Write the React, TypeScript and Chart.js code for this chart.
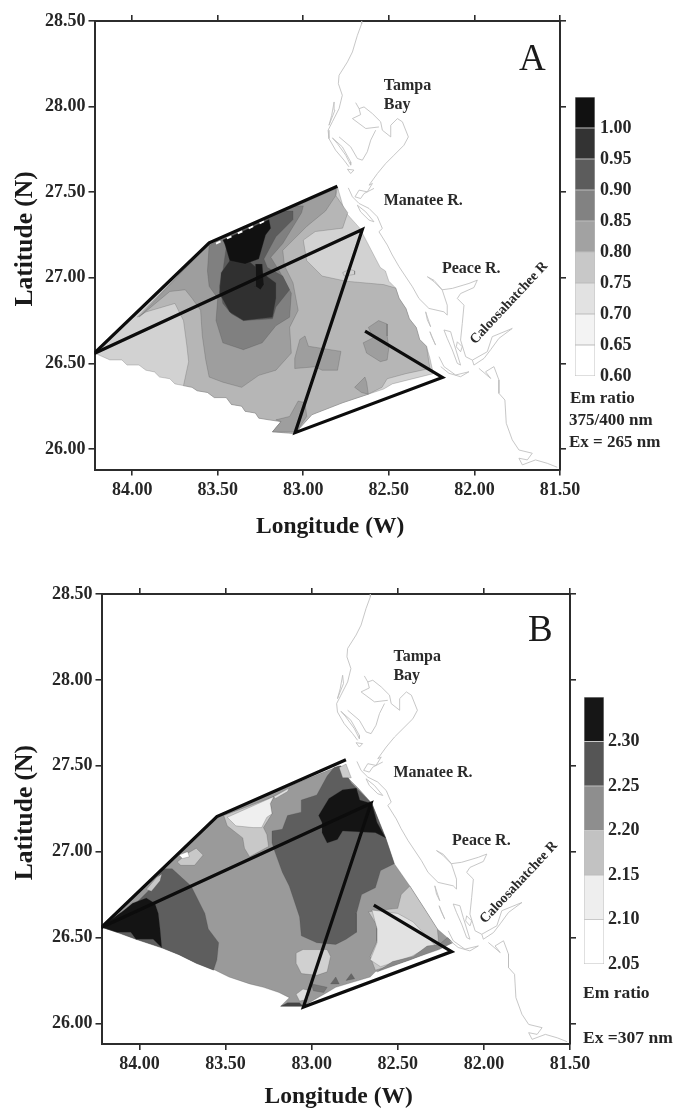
import React, { useEffect, useRef } from "react";
import { Chart, registerables } from "chart.js";

Chart.register(...registerables);

type P = number[];
const SERIF = "'Liberation Serif', serif";

const lonTicks = [84, 83.5, 83, 82.5, 82, 81.5];
const latTicks = [28.5, 28, 27.5, 27, 26.5, 26];
const ticksA = [0.6, 0.65, 0.7, 0.75, 0.8, 0.85, 0.9, 0.95, 1.0];
const ticksB = [2.05, 2.1, 2.15, 2.2, 2.25, 2.3];
const bandsA = [0.6, 0.65, 0.7, 0.75, 0.8, 0.85, 0.9, 0.95, 1.0, 1.05];
const bandsB = [2.05, 2.1, 2.15, 2.2, 2.25, 2.3, 2.35];
const shadesA = ["#ffffff", "#f3f3f3", "#e2e2e2", "#c8c8c8", "#a2a2a2", "#828282", "#5c5c5c", "#333333", "#111111"];
const shadesB = ["#ffffff", "#eeeeee", "#c2c2c2", "#8e8e8e", "#555555", "#161616"];

// cruise track
const trackNorth: P[] = [[84.222, 26.558], [83.55, 27.204], [82.801, 27.535]];
const trackSouth: P[] = [[84.222, 26.558], [82.655, 27.282], [83.048, 26.095], [82.187, 26.418], [82.639, 26.689]];
const dashesA: P[] = [[83.51, 27.2], [83.21, 27.34]];

// coastline (same in both panels)
const coastPinellas: P[] = [[82.659, 28.5], [82.659, 28.484], [82.684, 28.416], [82.713, 28.319], [82.742, 28.261], [82.791, 28.183], [82.795, 28.134], [82.772, 28.066], [82.791, 27.988], [82.83, 27.911], [82.855, 27.862], [82.85, 27.813], [82.811, 27.745], [82.762, 27.687], [82.733, 27.648]];
const coastSliver: P[] = [[82.82, 28.027], [82.834, 27.949], [82.85, 27.891], [82.815, 27.979], [82.82, 28.027]];
const coastBarrier: P[] = [[82.83, 27.817], [82.772, 27.765], [82.723, 27.677], [82.723, 27.658], [82.752, 27.716], [82.801, 27.784], [82.83, 27.817]];
const coastBlob: P[] = [[82.742, 27.634], [82.704, 27.629], [82.723, 27.609], [82.742, 27.634]];
const coastTampa: P[] = [[82.694, 28.023], [82.674, 27.988], [82.645, 27.998], [82.596, 27.959], [82.548, 27.911], [82.538, 27.862], [82.489, 27.823], [82.489, 27.891], [82.45, 27.93], [82.421, 27.911], [82.386, 27.823], [82.412, 27.774], [82.47, 27.716], [82.519, 27.667], [82.567, 27.609], [82.616, 27.541], [82.596, 27.551], [82.626, 27.502], [82.674, 27.512], [82.698, 27.473], [82.665, 27.463], [82.645, 27.492], [82.587, 27.522]];
const coastOldTampa: P[] = [[82.558, 27.881], [82.635, 27.872], [82.713, 27.93], [82.665, 27.953], [82.674, 27.988]];
const coastHills: P[] = [[82.577, 27.862], [82.606, 27.804], [82.626, 27.736], [82.655, 27.687], [82.684, 27.697], [82.723, 27.765], [82.791, 27.823]];
const coastManatee: P[] = [[82.737, 27.525], [82.713, 27.473], [82.674, 27.434], [82.616, 27.405], [82.567, 27.356], [82.538, 27.288], [82.558, 27.269], [82.509, 27.191], [82.48, 27.133], [82.44, 27.064], [82.362, 26.947], [82.324, 26.879], [82.266, 26.821], [82.178, 26.801], [82.159, 26.782], [82.159, 26.84], [82.188, 26.928], [82.236, 26.977], [82.275, 27.006], [82.236, 26.985], [82.188, 26.93], [82.129, 26.938], [82.032, 26.967], [81.983, 26.986], [82.003, 26.943], [82.081, 26.908], [82.1, 26.879], [82.061, 26.84], [82.071, 26.733], [82.081, 26.636], [82.051, 26.539], [82.012, 26.519], [81.925, 26.568], [81.896, 26.656], [81.779, 26.704], [81.857, 26.646], [81.905, 26.58], [81.944, 26.529], [82.003, 26.49], [82.012, 26.519]];
const coastIsland: P[] = [[82.684, 27.424], [82.635, 27.385], [82.587, 27.327], [82.616, 27.337], [82.665, 27.385], [82.684, 27.424]];
const coastSouth: P[] = [[81.974, 26.471], [81.905, 26.412], [81.935, 26.451], [81.886, 26.481], [81.857, 26.403], [81.857, 26.325], [81.822, 26.286], [81.814, 26.15], [81.779, 26.053], [81.74, 25.994], [81.662, 25.975], [81.691, 25.936], [81.74, 25.946], [81.72, 25.907], [81.643, 25.936], [81.574, 25.916], [81.516, 25.893]];
const coastPine: P[] = [[82.178, 26.695], [82.139, 26.685], [82.12, 26.617], [82.081, 26.49], [82.1, 26.5], [82.129, 26.578], [82.159, 26.646], [82.178, 26.695]];
const coastPineLoop: P[] = [[82.1, 26.626], [82.071, 26.597], [82.081, 26.568], [82.106, 26.597], [82.1, 26.626]];
const coastSanibel: P[] = [[82.207, 26.539], [82.178, 26.481], [82.11, 26.432], [82.032, 26.451], [82.081, 26.422], [82.149, 26.442], [82.197, 26.481]];
const coastKey1: P[] = [[82.285, 26.801], [82.256, 26.714], [82.275, 26.753], [82.285, 26.801]];
const coastKey2: P[] = [[82.26, 26.685], [82.227, 26.607], [82.25, 26.656], [82.26, 26.685]];
const coastLines = [coastPinellas, coastSliver, coastBarrier, coastBlob, coastTampa, coastOldTampa, coastHills, coastManatee, coastIsland, coastSouth, coastPine, coastPineLoop, coastSanibel, coastKey1, coastKey2];

// Panel A contours
const aDomain: P[] = [[84.22, 26.56], [83.55, 27.2], [82.8, 27.53], [82.76, 27.39], [82.67, 27.29], [82.55, 27.06], [82.52, 27.04], [82.5, 26.98], [82.46, 26.94], [82.44, 26.88], [82.4, 26.82], [82.38, 26.76], [82.34, 26.71], [82.32, 26.64], [82.28, 26.6], [82.26, 26.53], [82.24, 26.44], [82.48, 26.38], [82.53, 26.35], [82.62, 26.32], [82.77, 26.27], [82.95, 26.2], [83.05, 26.09], [83.18, 26.1], [83.13, 26.16], [83.2, 26.17], [83.26, 26.18], [83.28, 26.21], [83.34, 26.22], [83.36, 26.25], [83.42, 26.26], [83.45, 26.3], [83.52, 26.3], [83.56, 26.33], [83.62, 26.34], [83.65, 26.36], [83.7, 26.37], [83.75, 26.38], [83.78, 26.41], [83.84, 26.42], [83.87, 26.45], [83.92, 26.46], [83.96, 26.49], [84.03, 26.49], [84.06, 26.52], [84.13, 26.52]];
const aMid: P[] = [[83.97, 26.77], [83.92, 26.8], [83.75, 26.85], [83.7, 26.75], [83.68, 26.6], [83.67, 26.51], [83.7, 26.37], [83.65, 26.36], [83.62, 26.34], [83.56, 26.33], [83.52, 26.3], [83.45, 26.3], [83.42, 26.26], [83.36, 26.25], [83.34, 26.22], [83.28, 26.21], [83.26, 26.18], [83.2, 26.17], [83.13, 26.16], [83.18, 26.1], [83.05, 26.09], [82.95, 26.2], [82.77, 26.27], [82.62, 26.32], [82.54, 26.36], [82.51, 26.41], [82.4, 26.44], [82.26, 26.47], [82.28, 26.6], [82.32, 26.64], [82.34, 26.71], [82.38, 26.76], [82.4, 26.82], [82.44, 26.88], [82.46, 26.94], [82.53, 26.96], [82.75, 26.98], [82.89, 27.01], [82.98, 27.1], [83.0, 27.22], [82.93, 27.27], [82.77, 27.29], [82.74, 27.38], [82.81, 27.48], [82.8, 27.53], [83.55, 27.2]];
const aPale: P[] = [[82.77, 27.03], [82.73, 27.05], [82.7, 27.04], [82.7, 27.02], [82.76, 27.01]];
const aBand: P[] = [[83.96, 26.77], [83.78, 26.92], [83.69, 26.93], [83.65, 26.88], [83.6, 26.81], [83.59, 26.66], [83.57, 26.52], [83.55, 26.42], [83.47, 26.39], [83.36, 26.36], [83.26, 26.43], [83.16, 26.46], [83.07, 26.56], [83.08, 26.71], [83.03, 26.81], [83.06, 26.97], [83.11, 27.07], [83.12, 27.16], [83.06, 27.22], [82.98, 27.3], [82.87, 27.39], [82.81, 27.48], [82.81, 27.52], [83.55, 27.2]];
const aPatch1: P[] = [[82.99, 26.66], [82.97, 26.6], [82.78, 26.57], [82.8, 26.46], [82.89, 26.46], [82.93, 26.48], [83.05, 26.47], [83.05, 26.53], [83.02, 26.64]];
const aPatch2: P[] = [[82.62, 26.71], [82.56, 26.75], [82.51, 26.73], [82.51, 26.66], [82.5, 26.59], [82.51, 26.52], [82.55, 26.51], [82.63, 26.56], [82.65, 26.62], [82.59, 26.65]];
const aPatch3: P[] = [[82.7, 26.36], [82.64, 26.42], [82.63, 26.39], [82.62, 26.32], [82.66, 26.33]];
const aPatch4: P[] = [[83.16, 26.17], [83.08, 26.19], [83.03, 26.28], [82.99, 26.27], [82.98, 26.19], [83.02, 26.13], [83.04, 26.1], [83.18, 26.1], [83.13, 26.16]];
const aOuter: P[] = [[83.55, 27.19], [83.56, 27.04], [83.55, 26.95], [83.5, 26.88], [83.51, 26.75], [83.47, 26.62], [83.35, 26.58], [83.24, 26.62], [83.16, 26.72], [83.08, 26.77], [83.07, 26.91], [83.14, 27.04], [83.19, 27.12], [83.12, 27.2], [83.01, 27.38], [83.0, 27.42], [83.06, 27.42], [83.49, 27.22]];
const aInner: P[] = [[83.45, 27.18], [83.47, 27.04], [83.49, 26.95], [83.47, 26.85], [83.42, 26.79], [83.35, 26.75], [83.18, 26.76], [83.16, 26.83], [83.08, 26.93], [83.12, 27.01], [83.21, 27.06], [83.23, 27.11], [83.16, 27.24], [83.06, 27.34], [83.06, 27.39], [83.14, 27.39], [83.47, 27.22]];
const aLower: P[] = [[83.48, 27.03], [83.49, 26.91], [83.43, 26.8], [83.35, 26.75], [83.18, 26.77], [83.16, 26.88], [83.16, 26.97], [83.24, 27.03], [83.31, 27.09], [83.43, 27.1]];
const aCore: P[] = [[83.46, 27.2], [83.43, 27.1], [83.34, 27.08], [83.26, 27.11], [83.22, 27.25], [83.19, 27.29], [83.2, 27.34], [83.47, 27.22]];
const aSpot: P[] = [[83.28, 27.08], [83.28, 26.95], [83.25, 26.93], [83.23, 26.96], [83.24, 27.08]];

// Panel B contours
const bDomain: P[] = [[84.22, 26.56], [83.55, 27.21], [82.84, 27.5], [82.78, 27.42], [82.73, 27.37], [82.65, 27.28], [82.57, 27.08], [82.52, 26.93], [82.43, 26.8], [82.34, 26.66], [82.27, 26.55], [82.19, 26.48], [82.26, 26.44], [82.43, 26.37], [82.63, 26.3], [82.66, 26.27], [82.86, 26.21], [82.91, 26.18], [83.05, 26.1], [83.18, 26.1], [83.13, 26.15], [83.19, 26.18], [83.28, 26.21], [83.36, 26.23], [83.48, 26.27], [83.56, 26.31], [83.67, 26.35], [83.77, 26.4], [83.87, 26.44], [84.02, 26.49], [84.13, 26.53]];
const bPaleNW: P[] = [[83.51, 27.21], [83.49, 27.15], [83.4, 27.08], [83.39, 27.02], [83.36, 26.97], [83.25, 27.03], [83.26, 27.1], [83.28, 27.14], [83.23, 27.22], [83.24, 27.28], [83.22, 27.32]];
const bWhiteNW: P[] = [[83.49, 27.2], [83.44, 27.15], [83.34, 27.14], [83.29, 27.14], [83.26, 27.2], [83.23, 27.22], [83.24, 27.28], [83.22, 27.32]];
const bSliver: P[] = [[83.22, 27.32], [83.13, 27.37], [83.14, 27.35], [83.21, 27.31]];
const bDarkN: P[] = [[82.91, 27.44], [82.87, 27.49], [82.83, 27.5], [82.77, 27.4], [82.65, 27.28], [82.57, 27.08], [82.52, 26.93], [82.6, 26.89], [82.63, 26.79], [82.71, 26.75], [82.74, 26.64], [82.74, 26.53], [82.8, 26.49], [82.86, 26.46], [82.97, 26.47], [83.06, 26.51], [83.07, 26.62], [83.13, 26.8], [83.17, 26.88], [83.21, 26.99], [83.23, 27.05], [83.23, 27.12], [83.17, 27.13], [83.14, 27.21], [83.06, 27.23], [83.06, 27.3], [82.97, 27.33]];
const bBlackN: P[] = [[82.96, 27.21], [82.93, 27.26], [82.9, 27.31], [82.82, 27.36], [82.74, 27.37], [82.72, 27.3], [82.65, 27.28], [82.62, 27.17], [82.57, 27.08], [82.63, 27.11], [82.82, 27.12], [82.85, 27.07], [82.91, 27.05], [82.94, 27.11], [82.94, 27.17]];
const bPaleTop: P[] = [[82.84, 27.49], [82.8, 27.51], [82.77, 27.43], [82.82, 27.43]];
const bDarkSW: P[] = [[84.1, 26.65], [84.02, 26.7], [83.95, 26.77], [83.86, 26.9], [83.81, 26.9], [83.7, 26.8], [83.62, 26.64], [83.6, 26.55], [83.54, 26.47], [83.55, 26.37], [83.57, 26.31], [83.67, 26.35], [83.77, 26.4], [83.87, 26.44], [84.02, 26.49], [84.13, 26.53], [84.22, 26.56]];
const bBlackSW: P[] = [[84.22, 26.56], [84.13, 26.63], [84.1, 26.65], [84.04, 26.7], [83.96, 26.73], [83.91, 26.7], [83.89, 26.64], [83.88, 26.55], [83.87, 26.44], [83.92, 26.49], [84.02, 26.49], [84.05, 26.53], [84.13, 26.53]];
const bSliverW: P[] = [[83.96, 26.78], [83.9, 26.85], [83.87, 26.87], [83.88, 26.83], [83.93, 26.77]];
const bBlob: P[] = [[83.78, 26.94], [83.72, 26.99], [83.67, 27.02], [83.63, 26.98], [83.68, 26.92], [83.76, 26.92]];
const bBlobCore: P[] = [[83.77, 26.98], [83.72, 27.0], [83.71, 26.97], [83.75, 26.96]];
const bPaleSE: P[] = [[82.43, 26.8], [82.48, 26.75], [82.5, 26.67], [82.59, 26.66], [82.67, 26.65], [82.62, 26.57], [82.62, 26.48], [82.66, 26.39], [82.63, 26.31], [82.43, 26.37], [82.26, 26.44], [82.27, 26.55], [82.34, 26.66]];
const bPalerSE: P[] = [[82.65, 26.66], [82.5, 26.64], [82.41, 26.59], [82.28, 26.45], [82.33, 26.44], [82.42, 26.39], [82.6, 26.33], [82.66, 26.37], [82.62, 26.47], [82.62, 26.55]];
const bStrip: P[] = [[82.62, 26.3], [82.53, 26.36], [82.41, 26.39], [82.33, 26.45], [82.26, 26.46], [82.21, 26.5], [82.18, 26.47], [82.26, 26.43], [82.43, 26.37]];
const bBlobS: P[] = [[83.09, 26.41], [83.05, 26.43], [82.91, 26.43], [82.89, 26.39], [82.91, 26.3], [82.97, 26.28], [83.06, 26.29], [83.09, 26.35]];
const bSpike1: P[] = [[82.89, 26.23], [82.86, 26.27], [82.84, 26.23]];
const bSpike2: P[] = [[82.8, 26.25], [82.77, 26.29], [82.75, 26.26]];
const bBandS: P[] = [[83.0, 26.23], [82.91, 26.21], [82.93, 26.18], [82.99, 26.19]];
const bBlobTip: P[] = [[83.09, 26.17], [83.05, 26.2], [83.01, 26.19], [83.02, 26.14], [83.07, 26.13]];
const bTip: P[] = [[83.18, 26.1], [83.05, 26.1], [83.07, 26.12], [83.14, 26.12]];

const layersA: [P[], string][] = [
  [aDomain, "#d2d2d2"], [aMid, "#b6b6b6"], [aPale, "#d2d2d2"], [aBand, "#9e9e9e"], [aPatch1, "#9e9e9e"], [aPatch2, "#9e9e9e"],
  [aPatch3, "#9e9e9e"], [aPatch4, "#9e9e9e"], [aOuter, "#808080"], [aInner, "#5c5c5c"], [aLower, "#303030"], [aCore, "#111111"], [aSpot, "#141414"],
];
const layersB: [P[], string][] = [
  [bDomain, "#9a9a9a"], [bPaleNW, "#c8c8c8"], [bWhiteNW, "#efefef"], [bSliver, "#e0e0e0"], [bDarkN, "#5e5e5e"], [bPaleTop, "#cccccc"], [bBlackN, "#141414"],
  [bDarkSW, "#5e5e5e"], [bBlackSW, "#141414"], [bSliverW, "#c8c8c8"], [bBlob, "#c8c8c8"], [bBlobCore, "#ffffff"], [bPaleSE, "#c8c8c8"], [bPalerSE, "#e2e2e2"],
  [bStrip, "#888888"], [bBlobS, "#d0d0d0"], [bSpike1, "#666666"], [bSpike2, "#666666"], [bBandS, "#777777"], [bBlobTip, "#dddddd"], [bTip, "#444444"],
];

type Lab = { text: string[]; lon: number; lat: number; size: number; bold: boolean; angle: number; center: boolean };
const labelsA: Lab[] = [
  { text: ["Tampa"], lon: 82.53, lat: 28.12, size: 16, bold: true, angle: 0, center: false },
  { text: ["Bay"], lon: 82.53, lat: 28.01, size: 16, bold: true, angle: 0, center: false },
  { text: ["Manatee R."], lon: 82.53, lat: 27.45, size: 16, bold: true, angle: 0, center: false },
  { text: ["Peace R."], lon: 82.19, lat: 27.053, size: 16, bold: true, angle: 0, center: false },
  { text: ["Caloosahatchee R"], lon: 81.798, lat: 26.852, size: 14, bold: true, angle: -47, center: true },
  { text: ["A"], lon: 81.739, lat: 28.27, size: 37, bold: false, angle: 0, center: false },
];
const labelsB: Lab[] = [
  { text: ["Tampa"], lon: 82.525, lat: 28.135, size: 16, bold: true, angle: 0, center: false },
  { text: ["Bay"], lon: 82.525, lat: 28.025, size: 16, bold: true, angle: 0, center: false },
  { text: ["Manatee R."], lon: 82.525, lat: 27.46, size: 16, bold: true, angle: 0, center: false },
  { text: ["Peace R."], lon: 82.185, lat: 27.065, size: 16, bold: true, angle: 0, center: false },
  { text: ["Caloosahatchee R"], lon: 81.797, lat: 26.82, size: 14, bold: true, angle: -47, center: true },
  { text: ["B"], lon: 81.744, lat: 28.285, size: 37, bold: false, angle: 0, center: false },
];

const toXY = (pts: P[]) => pts.map((p) => ({ x: p[0], y: p[1] }));
const closed = (pts: P[]) => [...pts, pts[0]];

const polygonPlugin = {
  id: "polygonFill",
  beforeDatasetDraw(chart: any, args: any) {
    const ds = chart.data.datasets[args.index];
    if (!ds.polyFill) return;
    const { ctx, chartArea: a } = chart;
    ctx.save();
    ctx.beginPath();
    ctx.rect(a.left, a.top, a.right - a.left, a.bottom - a.top);
    ctx.clip();
    ctx.beginPath();
    args.meta.data.forEach((pt: any, i: number) => (i ? ctx.lineTo(pt.x, pt.y) : ctx.moveTo(pt.x, pt.y)));
    ctx.closePath();
    ctx.fillStyle = ds.polyFill;
    ctx.fill();
    ctx.restore();
  },
};

const labelPlugin = {
  id: "mapLabels",
  afterDatasetsDraw(chart: any, _a: any, opts: any) {
    const { ctx, scales } = chart;
    (opts.items as Lab[]).forEach((l) => {
      ctx.save();
      ctx.translate(scales.x.getPixelForValue(l.lon), scales.y.getPixelForValue(l.lat));
      ctx.rotate((l.angle * Math.PI) / 180);
      ctx.font = `${l.bold ? "bold " : ""}${l.size}px ${SERIF}`;
      ctx.fillStyle = l.bold ? "#2a2a2a" : "#1a1a1a";
      ctx.textAlign = l.center ? "center" : "left";
      ctx.textBaseline = "middle";
      ctx.fillText(l.text[0], 0, 0);
      ctx.restore();
    });
  },
};

type Box = { left: number; top: number; right: number; bottom: number; xPad: number; yPad: number };

function useMap(ref: any, layers: [P[], string][], labels: Lab[], box: Box, dashes: P[] | null) {
  useEffect(() => {
    const line = (pts: P[], color: string, width: number, extra: any = {}) => ({
      data: toXY(pts), showLine: true, pointRadius: 0, borderColor: color, borderWidth: width, fill: false, tension: 0, ...extra,
    });
    const paint: any[] = [];
    layers.forEach(([pts, shade]) => paint.push(line(closed(pts), "rgba(70,70,70,0.4)", 0.6, { polyFill: shade })));
    coastLines.forEach((c) => paint.push(line(c, "#bdbdbd", 0.85)));
    if (dashes) paint.push(line(dashes, "#ffffff", 2, { borderDash: [5, 7] }));
    paint.push(line(trackNorth, "#0c0c0c", 3.2));
    paint.push(line(trackSouth, "#0c0c0c", 3.2));
    paint.forEach((d, i) => (d.order = paint.length - i));

    const tickFont = { family: SERIF, size: 18, weight: "bold" as const };
    const xTitleFont = { family: SERIF, size: 23.5, weight: "bold" as const };
    const yTitleFont = { family: SERIF, size: 25.5, weight: "bold" as const };
    const axis = { border: { display: true, color: "#2c2c2c", width: 2 }, grid: { drawOnChartArea: false, color: "#2c2c2c", lineWidth: 1.6, tickLength: 6 } };
    const xBase = { type: "linear", min: 81.5, max: 84.22, reverse: true, afterBuildTicks: (s: any) => (s.ticks = lonTicks.map((value) => ({ value }))), ...axis };
    const yBase = { type: "linear", min: 25.88, max: 28.5, afterBuildTicks: (s: any) => (s.ticks = latTicks.map((value) => ({ value }))), ...axis };
    const fmt = (v: any) => Number(v).toFixed(2);

    const chart = new Chart(ref.current, {
      type: "scatter",
      data: { datasets: paint },
      plugins: [polygonPlugin, labelPlugin],
      options: {
        responsive: false,
        animation: false,
        layout: { padding: 0 },
        plugins: { legend: { display: false }, tooltip: { enabled: false }, mapLabels: { items: labels } },
        scales: {
          x: {
            ...xBase, position: "bottom",
            ticks: { font: tickFont, color: "#262626", padding: 4, maxRotation: 0, callback: fmt },
            title: { display: true, text: " Longitude (W)", font: xTitleFont, color: "#1a1a1a", padding: { top: 0, bottom: box.xPad } },
            afterFit: (s: any) => { s.height = box.bottom; },
          },
          x2: { ...xBase, position: "top", ticks: { display: false }, afterFit: (s: any) => { s.height = box.top; } },
          y: {
            ...yBase, position: "left",
            ticks: { font: tickFont, color: "#262626", padding: 3, callback: fmt },
            title: { display: true, text: "  Latitude (N)", font: yTitleFont, color: "#1a1a1a", padding: { top: box.yPad, bottom: 0 } },
            afterFit: (s: any) => { s.width = box.left; },
          },
          y2: { ...yBase, position: "right", ticks: { display: false }, afterFit: (s: any) => { s.width = box.right; } },
        },
      } as any,
    } as any);
    return () => chart.destroy();
  }, []);
}

function useBar(ref: any, bands: number[], shades: string[], ticks: number[], axisWidth: number, padTop: number, padBottom: number, labelGap: number) {
  useEffect(() => {
    const chart = new Chart(ref.current, {
      type: "bar",
      data: {
        labels: [""],
        datasets: shades.map((s, i) => ({
          data: [[bands[i], bands[i + 1]]], backgroundColor: s, borderColor: "#bdbdbd", borderWidth: 0.8, borderSkipped: false,
          grouped: false, barPercentage: 1, categoryPercentage: 1,
        })),
      },
      options: {
        responsive: false,
        animation: false,
        layout: { padding: { top: padTop, bottom: padBottom, left: 0, right: 0 } },
        plugins: { legend: { display: false }, tooltip: { enabled: false } },
        scales: {
          x: { display: false },
          y: {
            position: "right",
            min: bands[0],
            max: bands[bands.length - 1],
            afterBuildTicks: (s: any) => (s.ticks = ticks.map((value) => ({ value }))),
            border: { display: false },
            grid: { display: false, drawTicks: false },
            ticks: { font: { family: SERIF, size: 18, weight: "bold" }, color: "#262626", padding: labelGap, callback: (v: any) => Number(v).toFixed(2) },
            afterFit: (s: any) => { s.width = axisWidth; s.paddingTop = 0; s.paddingBottom = 0; },
          },
        },
      } as any,
    } as any);
    return () => chart.destroy();
  }, []);
}

const canvasStyle = (left: number, top: number): React.CSSProperties => ({ position: "absolute", left, top, filter: "blur(0.5px)" });

function Note({ left, top, size, children }: { left: number; top: number; size: number; children: React.ReactNode }) {
  return (
    <div style={{ position: "absolute", left, top, transform: "translateY(-50%)", font: `bold ${size}px ${SERIF}`, color: "#262626", whiteSpace: "nowrap", filter: "blur(0.4px)" }}>
      {children}
    </div>
  );
}

export default function App() {
  const mapA = useRef<HTMLCanvasElement>(null);
  const mapB = useRef<HTMLCanvasElement>(null);
  const barA = useRef<HTMLCanvasElement>(null);
  const barB = useRef<HTMLCanvasElement>(null);
  useMap(mapA, layersA, labelsA, { left: 94.5, top: 21, right: 123, bottom: 86.5, xPad: 15, yPad: 10 }, dashesA);
  useMap(mapB, layersB, labelsB, { left: 101.5, top: 38, right: 113, bottom: 69, xPad: 2, yPad: 10 }, null);
  useBar(barA, bandsA, shadesA, ticksA, 88, 10, 16, 5);
  useBar(barB, bandsB, shadesB, ticksB, 79, 10, 15, 4);
  return (
    <div style={{ position: "absolute", left: 0, top: 0, width: 683, height: 1113, background: "#fff", overflow: "hidden" }}>
      <canvas ref={mapA} width={683} height={556} style={canvasStyle(0, 0)} />
      <canvas ref={mapB} width={683} height={557} style={canvasStyle(0, 556)} />
      <canvas ref={barA} width={108} height={305} style={canvasStyle(575, 87)} />
      <canvas ref={barB} width={99} height={292} style={canvasStyle(584, 687)} />
      <Note left={570} top={398} size={17}>Em ratio</Note>
      <Note left={569} top={420} size={17}>375/400 nm</Note>
      <Note left={569} top={442} size={17}>Ex = 265 nm</Note>
      <Note left={583} top={992} size={17.5}>Em ratio</Note>
      <Note left={583} top={1037} size={17.5}>Ex =307 nm</Note>
    </div>
  );
}
